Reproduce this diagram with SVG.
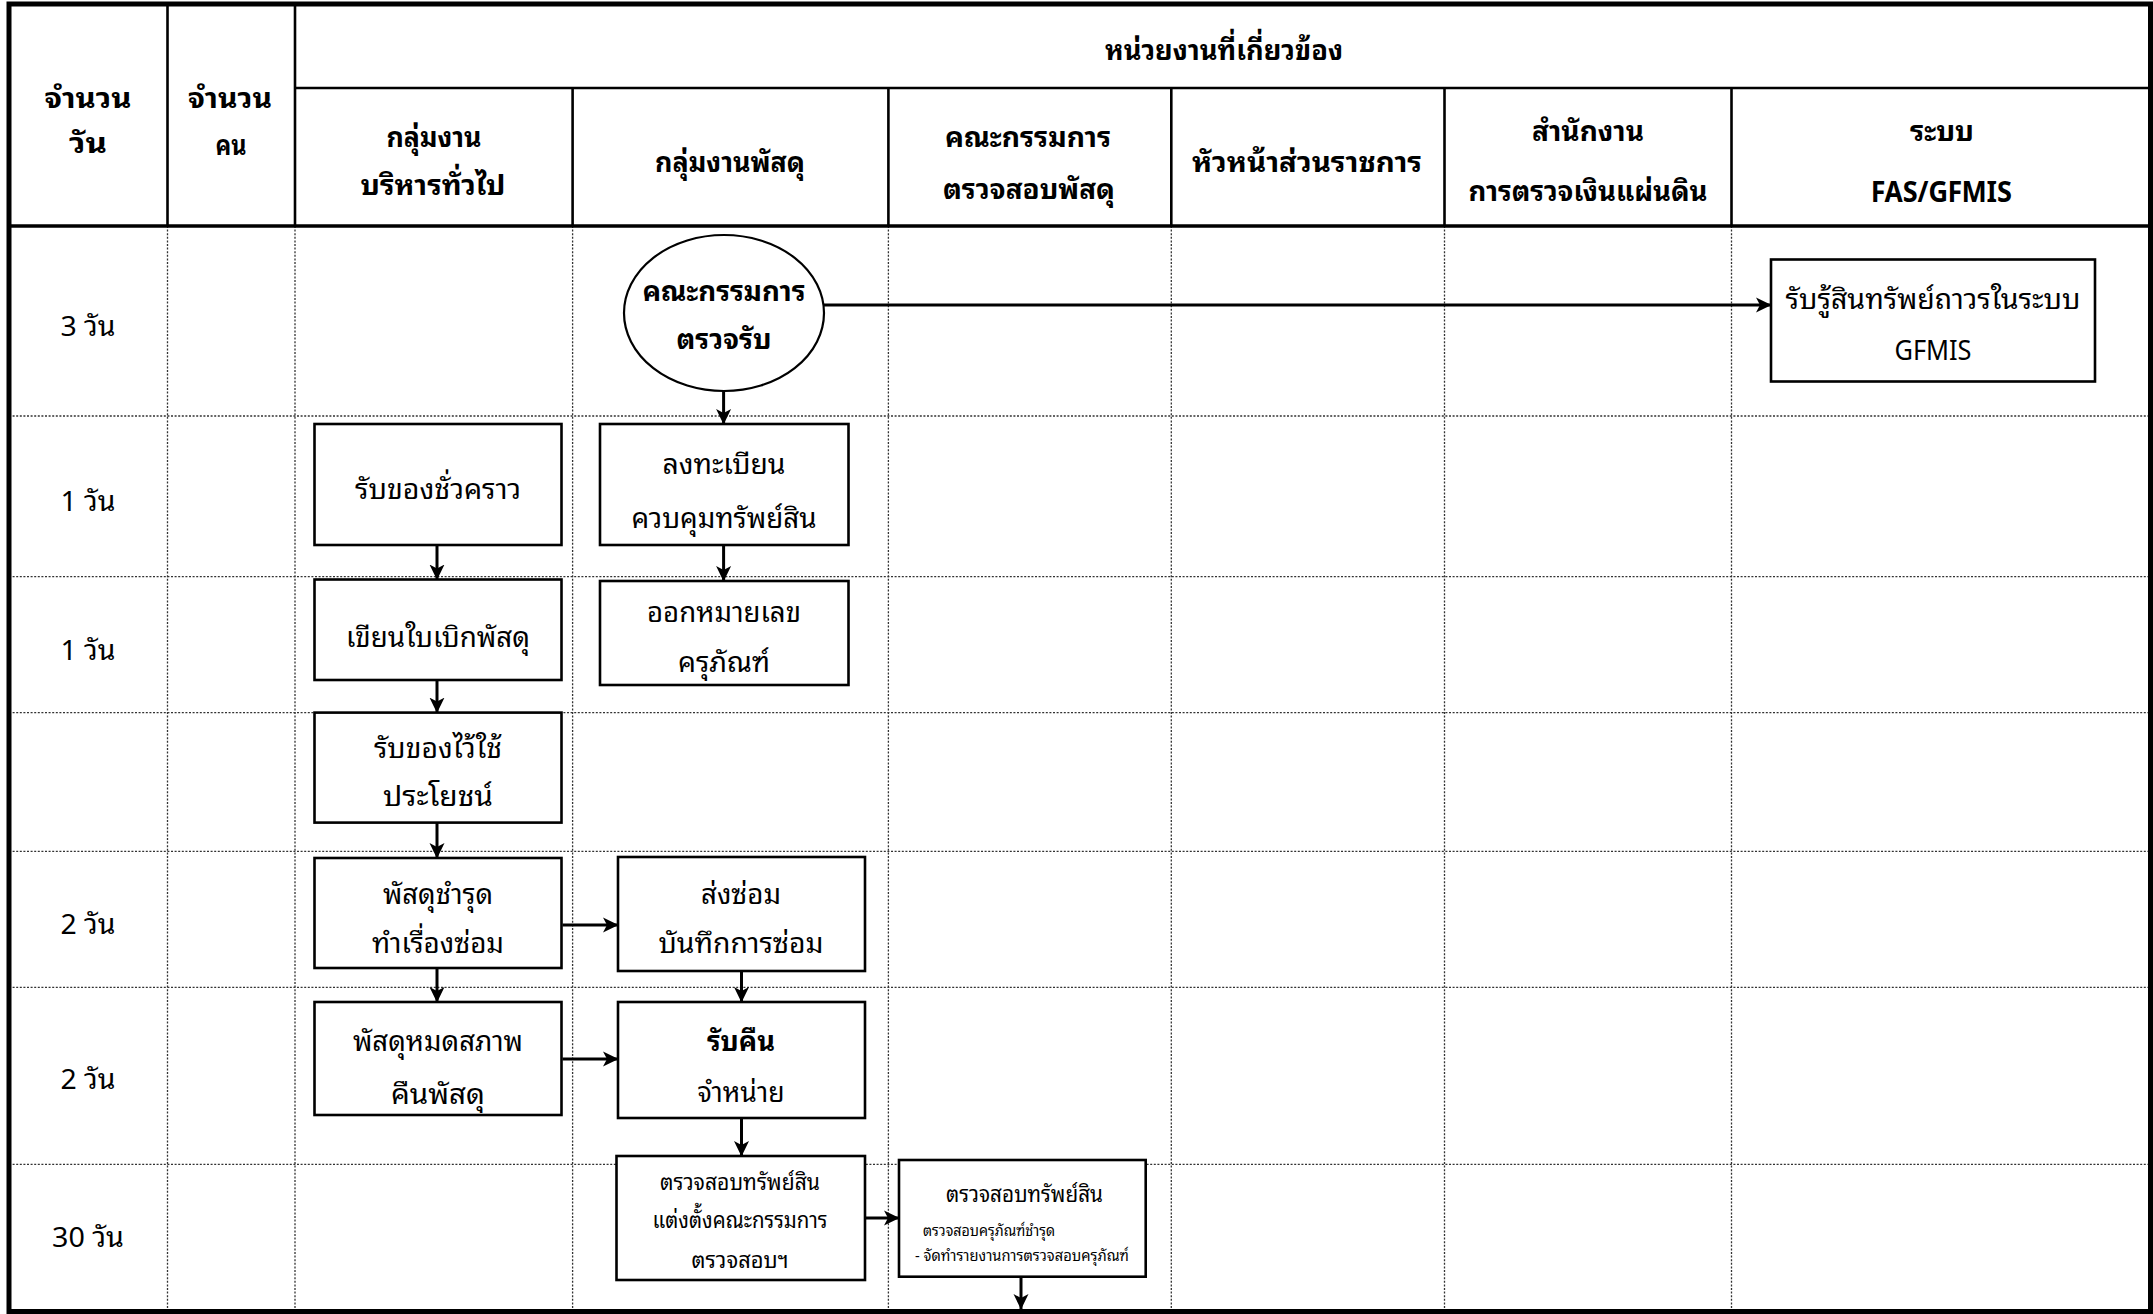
<svg xmlns="http://www.w3.org/2000/svg" width="2153" height="1314" viewBox="0 0 2153 1314">
<defs>
<marker id="ah" markerUnits="userSpaceOnUse" markerWidth="16" markerHeight="16" refX="15" refY="8" orient="auto">
<path d="M0,0.5 L15.5,8 L0,15.5 L4,8 z" fill="#000"/>
</marker>
<style>
text{font-family:'Noto Sans Thai Looped','Loma','Garuda','Tahoma','Noto Sans Thai','Noto Sans','DejaVu Sans',sans-serif;fill:#000;text-anchor:middle;}
.h{font-size:28px;font-weight:bold;}
.t{font-size:28px;}
.s{font-size:23px;}
.xs{font-size:15px;text-anchor:start;}
.b{font-weight:bold;}
.box{fill:#fff;stroke:#000;stroke-width:2.6;}
.ell{fill:#fff;stroke:#000;stroke-width:2.2;}
.grid{stroke:#333;stroke-width:1.3;stroke-dasharray:2 1.6;fill:none;}
.hl{stroke:#000;stroke-width:2.6;fill:none;}
.conn{stroke:#000;stroke-width:3;fill:none;marker-end:url(#ah);}
</style>
</defs>
<rect x="0" y="0" width="2153" height="1314" fill="#fff"/>
<g id="grid">
<g class="grid">
<line x1="167.5" y1="226" x2="167.5" y2="1310"/>
<line x1="295" y1="226" x2="295" y2="1310"/>
<line x1="572.6" y1="226" x2="572.6" y2="1310"/>
<line x1="888.4" y1="226" x2="888.4" y2="1310"/>
<line x1="1171.3" y1="226" x2="1171.3" y2="1310"/>
<line x1="1444.5" y1="226" x2="1444.5" y2="1310"/>
<line x1="1731.5" y1="226" x2="1731.5" y2="1310"/>
<line x1="9" y1="416" x2="2150" y2="416"/>
<line x1="9" y1="576.7" x2="2150" y2="576.7"/>
<line x1="9" y1="712.6" x2="2150" y2="712.6"/>
<line x1="9" y1="851.3" x2="2150" y2="851.3"/>
<line x1="9" y1="987.3" x2="2150" y2="987.3"/>
<line x1="9" y1="1164.4" x2="2150" y2="1164.4"/>
</g>
<g class="hl">
<line x1="167.5" y1="4" x2="167.5" y2="226"/>
<line x1="295" y1="4" x2="295" y2="226"/>
<line x1="572.6" y1="88" x2="572.6" y2="226"/>
<line x1="888.4" y1="88" x2="888.4" y2="226"/>
<line x1="1171.3" y1="88" x2="1171.3" y2="226"/>
<line x1="1444.5" y1="88" x2="1444.5" y2="226"/>
<line x1="1731.5" y1="88" x2="1731.5" y2="226"/>
<line x1="295" y1="88" x2="2150" y2="88"/>
<line x1="9" y1="226" x2="2150" y2="226" stroke-width="3.5"/>
</g>
<rect x="9" y="4" width="2141.5" height="1307.5" fill="none" stroke="#000" stroke-width="5"/>
</g>
<g id="header">
<text class="h" x="1224" y="60" textLength="238" lengthAdjust="spacingAndGlyphs">หน่วยงานที่เกี่ยวข้อง</text>
<text class="h" x="88" y="108" textLength="87" lengthAdjust="spacingAndGlyphs">จำนวน</text>
<text class="h" x="88" y="153" textLength="38" lengthAdjust="spacingAndGlyphs">วัน</text>
<text class="h" x="230" y="108" textLength="84" lengthAdjust="spacingAndGlyphs">จำนวน</text>
<text class="h" x="231" y="155" textLength="31" lengthAdjust="spacingAndGlyphs">คน</text>
<text class="h" x="434" y="147" textLength="95" lengthAdjust="spacingAndGlyphs">กลุ่มงาน</text>
<text class="h" x="433" y="195" textLength="145" lengthAdjust="spacingAndGlyphs">บริหารทั่วไป</text>
<text class="h" x="730" y="172" textLength="150" lengthAdjust="spacingAndGlyphs">กลุ่มงานพัสดุ</text>
<text class="h" x="1028" y="147" textLength="166" lengthAdjust="spacingAndGlyphs">คณะกรรมการ</text>
<text class="h" x="1029" y="199" textLength="172" lengthAdjust="spacingAndGlyphs">ตรวจสอบพัสดุ</text>
<text class="h" x="1307" y="172" textLength="230" lengthAdjust="spacingAndGlyphs">หัวหน้าส่วนราชการ</text>
<text class="h" x="1588" y="141" textLength="112" lengthAdjust="spacingAndGlyphs">สำนักงาน</text>
<text class="h" x="1588" y="201" textLength="239" lengthAdjust="spacingAndGlyphs">การตรวจเงินแผ่นดิน</text>
<text class="h" x="1942" y="141" textLength="64" lengthAdjust="spacingAndGlyphs">ระบบ</text>
<text class="h" x="1941.5" y="201.5" textLength="141" lengthAdjust="spacingAndGlyphs">FAS/GFMIS</text>
</g>
<g id="days">
<text class="t" x="88" y="336" textLength="55" lengthAdjust="spacingAndGlyphs">3 วัน</text>
<text class="t" x="88" y="511" textLength="55" lengthAdjust="spacingAndGlyphs">1 วัน</text>
<text class="t" x="88" y="660" textLength="55" lengthAdjust="spacingAndGlyphs">1 วัน</text>
<text class="t" x="88" y="934" textLength="55" lengthAdjust="spacingAndGlyphs">2 วัน</text>
<text class="t" x="88" y="1089" textLength="55" lengthAdjust="spacingAndGlyphs">2 วัน</text>
<text class="t" x="88" y="1247" textLength="72" lengthAdjust="spacingAndGlyphs">30 วัน</text>
</g>
<g id="connectors">
<line class="conn" x1="823.5" y1="305" x2="1771" y2="305"/>
<line class="conn" x1="723.6" y1="391" x2="723.6" y2="424"/>
<line class="conn" x1="723.6" y1="545" x2="723.6" y2="581"/>
<line class="conn" x1="437" y1="545" x2="437" y2="579.5"/>
<line class="conn" x1="437" y1="680" x2="437" y2="712.6"/>
<line class="conn" x1="437" y1="822.5" x2="437" y2="858"/>
<line class="conn" x1="562.5" y1="925" x2="618" y2="925"/>
<line class="conn" x1="437" y1="968" x2="437" y2="1002"/>
<line class="conn" x1="562.5" y1="1059" x2="618" y2="1059"/>
<line class="conn" x1="741.5" y1="968" x2="741.5" y2="1002"/>
<line class="conn" x1="741.5" y1="1118" x2="741.5" y2="1156"/>
<line class="conn" x1="865" y1="1218" x2="899" y2="1218"/>
<line class="conn" x1="1021" y1="1277" x2="1021" y2="1309"/>
</g>
<g id="n-committee">
<ellipse class="ell" cx="724" cy="313" rx="100" ry="78"/>
<text class="h" x="724" y="301" textLength="163" lengthAdjust="spacingAndGlyphs">คณะกรรมการ</text>
<text class="h" x="724" y="349" textLength="95" lengthAdjust="spacingAndGlyphs">ตรวจรับ</text>
</g>
<g id="n-gfmis">
<rect class="box" x="1771" y="259.5" width="324" height="122"/>
<text class="t" x="1933" y="309" textLength="295" lengthAdjust="spacingAndGlyphs">รับรู้สินทรัพย์ถาวรในระบบ</text>
<text class="t" x="1933" y="360" textLength="77" lengthAdjust="spacingAndGlyphs">GFMIS</text>
</g>
<g id="n-register">
<rect class="box" x="600" y="424" width="248.5" height="121"/>
<text class="t" x="724" y="474" textLength="123" lengthAdjust="spacingAndGlyphs">ลงทะเบียน</text>
<text class="t" x="724" y="528" textLength="185" lengthAdjust="spacingAndGlyphs">ควบคุมทรัพย์สิน</text>
</g>
<g id="n-number">
<rect class="box" x="600" y="581" width="248.5" height="104"/>
<text class="t" x="724" y="622" textLength="154" lengthAdjust="spacingAndGlyphs">ออกหมายเลข</text>
<text class="t" x="724" y="672" textLength="92" lengthAdjust="spacingAndGlyphs">ครุภัณฑ์</text>
</g>
<g id="n-temp">
<rect class="box" x="314.5" y="424" width="247" height="121"/>
<text class="t" x="438" y="499" textLength="166" lengthAdjust="spacingAndGlyphs">รับของชั่วคราว</text>
</g>
<g id="n-requisition">
<rect class="box" x="314.5" y="579.5" width="247" height="100.5"/>
<text class="t" x="438" y="647" textLength="184" lengthAdjust="spacingAndGlyphs">เขียนใบเบิกพัสดุ</text>
</g>
<g id="n-use">
<rect class="box" x="314.5" y="712.6" width="247" height="110"/>
<text class="t" x="438" y="758" textLength="128" lengthAdjust="spacingAndGlyphs">รับของไว้ใช้</text>
<text class="t" x="438" y="806" textLength="110" lengthAdjust="spacingAndGlyphs">ประโยชน์</text>
</g>
<g id="n-damaged">
<rect class="box" x="314.5" y="858" width="247" height="110"/>
<text class="t" x="438" y="904" textLength="110" lengthAdjust="spacingAndGlyphs">พัสดุชำรุด</text>
<text class="t" x="438" y="953" textLength="132" lengthAdjust="spacingAndGlyphs">ทำเรื่องซ่อม</text>
</g>
<g id="n-repair">
<rect class="box" x="618" y="857" width="247" height="114"/>
<text class="t" x="741" y="904" textLength="80" lengthAdjust="spacingAndGlyphs">ส่งซ่อม</text>
<text class="t" x="741" y="953" textLength="165" lengthAdjust="spacingAndGlyphs">บันทึกการซ่อม</text>
</g>
<g id="n-expired">
<rect class="box" x="314.5" y="1002" width="247" height="113"/>
<text class="t" x="438" y="1051" textLength="170" lengthAdjust="spacingAndGlyphs">พัสดุหมดสภาพ</text>
<text class="t" x="438" y="1104" textLength="94" lengthAdjust="spacingAndGlyphs">คืนพัสดุ</text>
</g>
<g id="n-return">
<rect class="box" x="618" y="1002" width="247" height="116"/>
<text class="t b" x="741" y="1051" textLength="68" lengthAdjust="spacingAndGlyphs">รับคืน</text>
<text class="t" x="741" y="1102" textLength="87" lengthAdjust="spacingAndGlyphs">จำหน่าย</text>
</g>
<g id="n-appoint">
<rect class="box" x="616.5" y="1156" width="248.5" height="124"/>
<text class="s" x="740" y="1190" textLength="160" lengthAdjust="spacingAndGlyphs">ตรวจสอบทรัพย์สิน</text>
<text class="s" x="740" y="1228" textLength="175" lengthAdjust="spacingAndGlyphs">แต่งตั้งคณะกรรมการ</text>
<text class="s" x="740" y="1268" textLength="97" lengthAdjust="spacingAndGlyphs">ตรวจสอบฯ</text>
</g>
<g id="n-inspect">
<rect class="box" x="899" y="1160" width="246.7" height="116.7"/>
<text class="s" x="1024.5" y="1202" textLength="157" lengthAdjust="spacingAndGlyphs">ตรวจสอบทรัพย์สิน</text>
<text class="xs" x="923" y="1236" textLength="132" lengthAdjust="spacingAndGlyphs">ตรวจสอบครุภัณฑ์ชำรุด</text>
<text class="xs" x="915" y="1261" textLength="214" lengthAdjust="spacingAndGlyphs">- จัดทำรายงานการตรวจสอบครุภัณฑ์</text>
</g>
</svg>
